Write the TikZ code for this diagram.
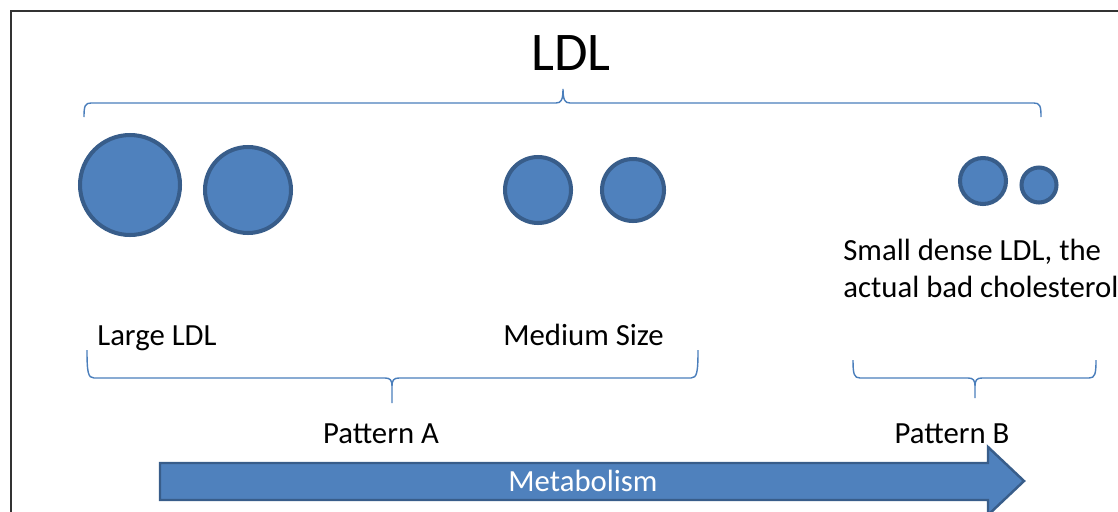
\documentclass[tikz,border=0pt]{standalone}
\usepackage{fontspec}
\setmainfont{Carlito}
\usepackage{tikz}
\usetikzlibrary{positioning,calc}

\definecolor{ldlfill}{HTML}{4F81BD}
\definecolor{ldledge}{HTML}{385D8A}
\definecolor{braceblue}{HTML}{4A7EBB}

\begin{document}
\begin{tikzpicture}[
      x=0.02cm, y=-0.02cm,
      ldl/.style={circle, draw=ldledge, fill=ldlfill, line width=2.3pt, inner sep=0pt},
      brace/.style={draw=braceblue, line width=0.8pt},
      lbl/.style={font=\fontsize{17.5}{20.5}\selectfont, inner sep=0pt, align=left},
      arrowbody/.style={draw=ldledge, fill=ldlfill, line width=1.4pt, line join=miter}
  ]
    \useasboundingbox (0,0) rectangle (1118,511);
    \clip (0,0) rectangle (1118,511);
    \draw[line width=1.2pt, draw=black!80] (11,11) rectangle (1140,540);

    \node[font=\fontsize{31}{36}\selectfont, inner sep=0pt, anchor=base] (title) at (571,70) {LDL};

    % top brace
    \draw[brace] (84,117) .. controls (84,106) and (85,103) .. (91,103) -- (556,103)
      .. controls (561,103) and (563,100) .. (563,89)
      .. controls (563,100) and (565,103) .. (570,103) -- (1034,103)
      .. controls (1040,103) and (1041,106) .. (1041,117);

    % particles
    \node[ldl, minimum size=2.0cm] (large1) at (130,185) {};
    \node[ldl, minimum size=1.72cm] (large2) at (248,190) {};
    \node[ldl, minimum size=1.32cm] (med1) at (538,190) {};
    \node[ldl, minimum size=1.24cm] (med2) at (633,190) {};
    \node[ldl, minimum size=0.92cm] (small1) at (983,181) {};
    \node[ldl, minimum size=0.70cm] (small2) at (1039,185) {};

    \node[lbl, anchor=base west] (largelbl) at (97,345) {Large LDL};
    \node[lbl, anchor=base west] (medlbl) at (503,345) {Medium Size};
    \node[lbl, anchor=base west] (smalllbl) at (843,297) {Small dense LDL, the\\actual bad cholesterol};

    % pattern braces
    \draw[brace] (87,350) .. controls (87,372) and (88,378) .. (94,378) -- (385,378)
      .. controls (390,378) and (392,380) .. (392,386) -- (392,403)
      (392,386) .. controls (392,380) and (394,378) .. (399,378) -- (691,378)
      .. controls (697,378) and (698,372) .. (698,350);
    \draw[brace] (853,360) .. controls (853,374) and (854,378) .. (860,378) -- (968,378)
      .. controls (973,378) and (975,380) .. (975,386) -- (975,398)
      (975,386) .. controls (975,380) and (977,378) .. (982,378) -- (1089,378)
      .. controls (1095,378) and (1096,374) .. (1096,360);

    \node[lbl, anchor=base] (patA) at (381,443) {Pattern A};
    \node[lbl, anchor=base] (patB) at (952,443) {Pattern B};

    % metabolism arrow
    \draw[arrowbody] (160,463) -- (988,463) -- (988,447) -- (1024,481) -- (988,515)
      -- (988,500) -- (160,500) -- cycle;
    \node[lbl, text=white, anchor=base] (metab) at (583,491) {Metabolism};
  \end{tikzpicture}
\end{document}
